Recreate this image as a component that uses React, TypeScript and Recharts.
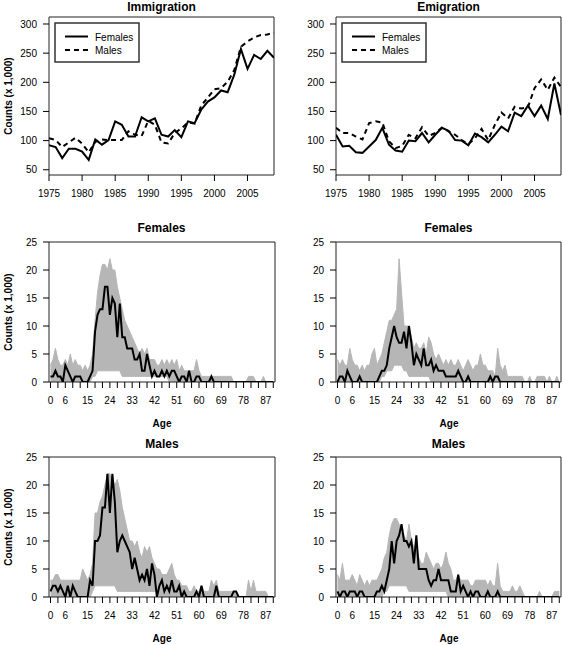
import React from "react";
import {
  LineChart,
  ComposedChart,
  Line,
  Area,
  XAxis,
  YAxis,
  ReferenceArea,
} from "recharts";

const FONT = "'Liberation Sans', Arial, Helvetica, sans-serif";
const GRAY = "#b6b6b6";

// yearly totals, 1975-2009 (x 1,000)
const YEARS = [
  1975, 1976, 1977, 1978, 1979, 1980, 1981, 1982, 1983, 1984, 1985, 1986,
  1987, 1988, 1989, 1990, 1991, 1992, 1993, 1994, 1995, 1996, 1997, 1998,
  1999, 2000, 2001, 2002, 2003, 2004, 2005, 2006, 2007, 2008, 2009,
];
const YEAR_TICKS = [1975, 1980, 1985, 1990, 1995, 2000, 2005];
const COUNT_TICKS = [50, 100, 150, 200, 250, 300];

const IMM_F = [
  92, 89, 70, 86, 86, 81, 67, 102, 93, 101, 133, 127, 107, 107, 140, 133, 138,
  110, 107, 118, 106, 133, 130, 153, 167, 174, 186, 183, 213, 257, 223, 247,
  240, 254, 242,
];
const IMM_M = [
  104, 101, 89, 97, 105, 95, 80, 98, 102, 101, 101, 101, 116, 110, 108, 134,
  127, 97, 95, 113, 121, 131, 129, 160, 174, 188, 190, 201, 221, 261, 270, 277,
  281, 282, 285,
];
const EMI_F = [
  110, 90, 91, 80, 79, 90, 101, 122, 93, 83, 81, 100, 99, 113, 97, 110, 122,
  117, 101, 100, 92, 112, 106, 97, 110, 124, 116, 148, 142, 160, 142, 160, 137,
  198, 144,
];
const EMI_M = [
  122, 113, 113, 107, 102, 130, 133, 131, 99, 87, 91, 110, 104, 123, 108, 113,
  122, 116, 110, 101, 94, 104, 120, 101, 127, 148, 138, 158, 155, 157, 190, 205,
  187, 208, 192,
];

// age profiles, ages 0-90 (x 1,000): grey band = range over all years, black = one year
const AGE_TICKS = [
  0, 3, 6, 9, 12, 15, 18, 21, 24, 27, 30, 33, 36, 39, 42, 45, 48, 51, 54, 57,
  60, 63, 66, 69, 72, 75, 78, 81, 84, 87, 90,
];
const AGE_LABELS = [0, 6, 15, 24, 33, 42, 51, 60, 69, 78, 87];
const AGE_COUNT_TICKS = [0, 5, 10, 15, 20, 25];

const F_IMM_HI = [
  3, 4, 6, 4, 3, 3, 4, 3, 5, 3,
  4, 3, 3, 2, 3, 2, 3, 5, 11, 16,
  19, 21, 21, 20, 22, 20, 20, 17, 15, 13,
  11, 10, 9, 8, 7, 6, 5, 6, 5, 6,
  4, 4, 4, 3, 3, 4, 3, 4, 3, 4,
  3, 4, 2, 3, 2, 2, 2, 2, 2, 4,
  2, 1, 1, 1, 1, 1, 1, 1, 1, 1,
  1, 1, 1, 1, 0, 0, 0, 0, 0, 0,
  1, 1, 1, 0, 0, 0, 1, 0, 0, 0, 0,
];
const F_IMM_LO = [
  0, 0, 0, 0, 0, 0, 0, 0, 0, 0,
  0, 0, 0, 0, 0, 0, 0, 1, 1, 2,
  2, 2, 2, 2, 2, 2, 2, 2, 2, 1,
  1, 1, 1, 1, 1, 1, 1, 1, 1, 1,
  1, 1, 1, 1, 1, 1, 1, 1, 0, 0,
  0, 0, 0, 0, 0, 0, 0, 0, 0, 0,
  0, 0, 0, 0, 0, 0, 0, 0, 0, 0,
  0, 0, 0, 0, 0, 0, 0, 0, 0, 0,
  0, 0, 0, 0, 0, 0, 0, 0, 0, 0, 0,
];
const F_IMM_BLACK = [
  1, 1, 2, 1, 1, 0, 3, 2, 1, 0,
  1, 1, 1, 0, 0, 0, 1, 2, 9, 12,
  13, 13, 17, 17, 12, 15, 14, 8, 14, 8,
  8, 6, 6, 6, 4, 4, 5, 2, 2, 5,
  3, 1, 2, 1, 1, 2, 1, 2, 1, 2,
  2, 1, 0, 1, 1, 0, 2, 0, 0, 1,
  1, 0, 0, 0, 0, 1, 0, 0, 0, 0,
  0, 0, 0, 0, 0, 0, 0, 0, 0, 0,
  0, 0, 0, 0, 0, 0, 0, 0, 0, 0, 0,
];

const F_EMI_HI = [
  4, 3, 4, 3, 3, 6, 4, 3, 3, 2,
  3, 2, 3, 3, 5, 6, 3, 4, 5, 7,
  9, 11, 11, 12, 13, 22, 16, 10, 10, 10,
  8, 6, 7, 6, 6, 7, 5, 8, 7, 5,
  4, 5, 4, 3, 4, 3, 4, 3, 3, 4,
  3, 2, 3, 4, 3, 2, 3, 3, 5, 3,
  3, 2, 2, 2, 1, 6, 3, 2, 3, 1,
  1, 1, 1, 1, 1, 1, 0, 0, 1, 0,
  0, 1, 1, 1, 1, 0, 1, 0, 0, 1, 0,
];
const F_EMI_LO = [
  0, 0, 0, 0, 0, 0, 0, 0, 0, 0,
  0, 0, 0, 0, 0, 0, 0, 0, 1, 1,
  2, 2, 2, 3, 3, 3, 3, 2, 2, 1,
  1, 1, 1, 1, 1, 1, 1, 1, 0, 0,
  0, 0, 0, 0, 0, 0, 0, 0, 0, 0,
  0, 0, 0, 0, 0, 0, 0, 0, 0, 0,
  0, 0, 0, 0, 0, 0, 0, 0, 0, 0,
  0, 0, 0, 0, 0, 0, 0, 0, 0, 0,
  0, 0, 0, 0, 0, 0, 0, 0, 0, 0, 0,
];
const F_EMI_BLACK = [
  0, 1, 1, 0, 2, 1, 0, 0, 0, 1,
  0, 0, 0, 0, 0, 0, 0, 1, 2, 2,
  3, 6, 8, 10, 8, 7, 7, 9, 6, 10,
  7, 3, 5, 4, 3, 6, 3, 3, 4, 2,
  3, 2, 2, 2, 1, 1, 1, 1, 1, 2,
  1, 0, 0, 1, 0, 0, 0, 0, 0, 0,
  0, 0, 1, 0, 1, 1, 0, 0, 0, 0,
  0, 0, 0, 0, 0, 0, 0, 0, 0, 0,
  0, 0, 0, 0, 0, 0, 0, 0, 0, 0, 0,
];

const M_IMM_HI = [
  3, 3, 4, 4, 3, 3, 3, 3, 3, 3,
  3, 3, 3, 5, 4, 3, 4, 6, 15, 15,
  17, 18, 20, 22, 22, 21, 20, 21, 19, 16,
  14, 12, 10, 10, 9, 10, 8, 7, 9, 8,
  9, 7, 6, 5, 5, 4, 4, 4, 5, 6,
  4, 3, 3, 2, 2, 2, 1, 1, 2, 1,
  1, 2, 1, 1, 1, 3, 2, 3, 1, 1,
  1, 1, 1, 1, 1, 1, 0, 0, 0, 0,
  3, 1, 3, 1, 1, 1, 1, 1, 0, 0, 0,
];
const M_IMM_LO = [
  0, 0, 0, 0, 0, 0, 0, 0, 0, 0,
  0, 0, 0, 0, 0, 0, 0, 1, 2, 2,
  2, 2, 2, 2, 2, 2, 2, 1, 1, 1,
  1, 1, 1, 1, 1, 1, 1, 1, 1, 1,
  1, 1, 1, 1, 0, 0, 0, 0, 0, 0,
  0, 0, 0, 0, 0, 0, 0, 0, 0, 0,
  0, 0, 0, 0, 0, 0, 0, 0, 0, 0,
  0, 0, 0, 0, 0, 0, 0, 0, 0, 0,
  0, 0, 0, 0, 0, 0, 0, 0, 0, 0, 0,
];
const M_IMM_BLACK = [
  1, 2, 2, 1, 2, 1, 0, 2, 0, 2,
  1, 0, 0, 0, 0, 0, 3, 2, 10, 10,
  11, 16, 16, 22, 15, 22, 17, 8, 10, 11,
  10, 9, 8, 5, 7, 5, 3, 4, 3, 5,
  2, 6, 4, 0, 2, 3, 1, 2, 1, 3,
  1, 1, 2, 0, 1, 0, 0, 0, 0, 1,
  0, 2, 0, 0, 0, 0, 0, 2, 0, 0,
  0, 0, 0, 0, 1, 1, 0, 0, 0, 0,
  0, 0, 0, 0, 0, 0, 0, 0, 0, 0, 0,
];

const M_EMI_HI = [
  4, 3, 6, 3, 3, 3, 4, 3, 2, 4,
  3, 2, 3, 2, 3, 3, 3, 4, 5, 7,
  8, 11, 13, 14, 14, 13, 12, 11, 10, 13,
  10, 9, 9, 7, 6, 6, 8, 7, 6, 5,
  6, 6, 5, 6, 8, 6, 5, 3, 3, 4,
  3, 3, 3, 3, 2, 2, 3, 3, 3, 3,
  3, 2, 3, 2, 2, 6, 2, 1, 1, 1,
  1, 2, 1, 1, 2, 1, 0, 0, 0, 0,
  0, 0, 1, 0, 0, 0, 0, 0, 1, 1, 1,
];
const M_EMI_LO = [
  0, 0, 0, 0, 0, 0, 0, 0, 0, 0,
  0, 0, 0, 0, 0, 0, 0, 0, 0, 1,
  1, 2, 2, 2, 2, 2, 2, 2, 2, 1,
  1, 1, 1, 1, 1, 1, 1, 1, 1, 1,
  1, 1, 1, 1, 1, 0, 0, 0, 0, 0,
  0, 0, 0, 0, 0, 0, 0, 0, 0, 0,
  0, 0, 0, 0, 0, 0, 0, 0, 0, 0,
  0, 0, 0, 0, 0, 0, 0, 0, 0, 0,
  0, 0, 0, 0, 0, 0, 0, 0, 0, 0, 0,
];
const M_EMI_BLACK = [
  1, 0, 1, 1, 0, 1, 1, 1, 0, 1,
  1, 0, 0, 0, 0, 0, 1, 1, 2, 1,
  3, 5, 10, 6, 10, 11, 13, 10, 10, 9,
  10, 6, 11, 5, 5, 5, 5, 3, 2, 3,
  3, 5, 3, 3, 3, 3, 1, 1, 1, 4,
  1, 2, 1, 0, 1, 0, 1, 1, 0, 0,
  0, 1, 0, 0, 0, 1, 0, 0, 0, 0,
  0, 0, 0, 0, 0, 0, 0, 0, 0, 0,
  0, 0, 0, 0, 0, 0, 0, 0, 0, 0, 0,
];

type Box = { x: number; y: number; w: number; h: number };

const tickStyle = { fontSize: 10, fill: "#000", fontFamily: FONT };
const PAD = 10; // room above the plot box for the top tick label

const YearPanel = ({ box, f, m }: { box: Box; f: number[]; m: number[] }) => {
  const rows = YEARS.map((year, i) => ({ year, f: f[i], m: m[i] }));
  return (
    <div style={{ position: "absolute", left: box.x - 50, top: box.y - PAD }}>
      <LineChart
        width={box.w + 52}
        height={box.h + 30 + PAD}
        data={rows}
        margin={{ top: PAD, right: 2, left: 0, bottom: 0 }}
      >
        <XAxis
          dataKey="year"
          type="number"
          domain={[1975, 2009]}
          ticks={YEAR_TICKS}
          interval={0}
          allowDataOverflow
          axisLine={false}
          tickLine={{ stroke: "#000" }}
          tickSize={6}
          tickMargin={9}
          height={30}
          tick={tickStyle}
        />
        <YAxis
          type="number"
          domain={[41, 312]}
          ticks={COUNT_TICKS}
          interval={0}
          allowDataOverflow
          axisLine={false}
          tickLine={{ stroke: "#000" }}
          tickSize={6}
          tickMargin={6}
          width={50}
          tick={tickStyle}
        />
        <ReferenceArea
          x1={1975}
          x2={2009}
          y1={41}
          y2={312}
          fill="none"
          stroke="#222"
          strokeWidth={1}
          ifOverflow="visible"
        />
        <Line
          dataKey="m"
          stroke="#000"
          strokeWidth={2}
          strokeDasharray="5 4"
          dot={false}
          isAnimationActive={false}
        />
        <Line
          dataKey="f"
          stroke="#000"
          strokeWidth={2}
          dot={false}
          isAnimationActive={false}
        />
      </LineChart>
    </div>
  );
};

const AgePanel = ({
  box,
  lo,
  hi,
  black,
}: {
  box: Box;
  lo: number[];
  hi: number[];
  black: number[];
}) => {
  const rows = black.map((v, age) => ({ age, band: [lo[age], hi[age]], black: v }));
  return (
    <div style={{ position: "absolute", left: box.x - 50, top: box.y - PAD }}>
      <ComposedChart
        width={box.w + 52}
        height={box.h + 30 + PAD}
        data={rows}
        margin={{ top: PAD, right: 2, left: 0, bottom: 0 }}
      >
        <XAxis
          dataKey="age"
          type="number"
          domain={[-0.6, 90.7]}
          ticks={AGE_TICKS}
          interval={0}
          allowDataOverflow
          axisLine={false}
          tickLine={{ stroke: "#000" }}
          tickSize={6}
          tickMargin={9}
          height={30}
          tick={tickStyle}
          tickFormatter={(v: number) => (AGE_LABELS.includes(v) ? String(v) : "")}
        />
        <YAxis
          type="number"
          domain={[0, 25]}
          ticks={AGE_COUNT_TICKS}
          interval={0}
          allowDataOverflow
          axisLine={false}
          tickLine={{ stroke: "#000" }}
          tickSize={6}
          tickMargin={6}
          width={50}
          tick={tickStyle}
        />
        <Area
          dataKey="band"
          type="linear"
          stroke={GRAY}
          strokeWidth={1}
          fill={GRAY}
          fillOpacity={1}
          isAnimationActive={false}
        />
        <Line
          dataKey="black"
          type="linear"
          stroke="#000"
          strokeWidth={2}
          dot={false}
          isAnimationActive={false}
        />
        <ReferenceArea
          x1={-0.6}
          x2={90.7}
          y1={0}
          y2={25}
          fill="none"
          stroke="#222"
          strokeWidth={1}
          ifOverflow="visible"
        />
      </ComposedChart>
    </div>
  );
};

const LegendBox = ({ x, y }: { x: number; y: number }) => (
  <g>
    <rect x={x} y={y} width={84} height={39} fill="none" stroke="#333" strokeWidth={1.5} />
    <line x1={x + 10} x2={x + 33} y1={y + 13.5} y2={y + 13.5} stroke="#000" strokeWidth={2} />
    <line
      x1={x + 10}
      x2={x + 33}
      y1={y + 27}
      y2={y + 27}
      stroke="#000"
      strokeWidth={2}
      strokeDasharray="5 4"
    />
    <text x={x + 40} y={y + 17.5} fontSize={10}>
      Females
    </text>
    <text x={x + 40} y={y + 30.5} fontSize={10}>
      Males
    </text>
  </g>
);

const LEFT: Box[] = [
  { x: 49, y: 17, w: 225, h: 158 },
  { x: 49, y: 242, w: 226, h: 140 },
  { x: 49, y: 457, w: 226, h: 140 },
];
const RIGHT: Box[] = [
  { x: 336, y: 17, w: 225, h: 158 },
  { x: 336, y: 242, w: 225, h: 140 },
  { x: 336, y: 457, w: 225, h: 140 },
];

export default function App() {
  return (
    <div
      style={{
        position: "absolute",
        left: 0,
        top: 0,
        width: 562,
        height: 645,
        overflow: "hidden",
        background: "#fff",
        fontFamily: FONT,
      }}
    >
      <YearPanel box={LEFT[0]} f={IMM_F} m={IMM_M} />
      <YearPanel box={RIGHT[0]} f={EMI_F} m={EMI_M} />
      <AgePanel box={LEFT[1]} lo={F_IMM_LO} hi={F_IMM_HI} black={F_IMM_BLACK} />
      <AgePanel box={RIGHT[1]} lo={F_EMI_LO} hi={F_EMI_HI} black={F_EMI_BLACK} />
      <AgePanel box={LEFT[2]} lo={M_IMM_LO} hi={M_IMM_HI} black={M_IMM_BLACK} />
      <AgePanel box={RIGHT[2]} lo={M_EMI_LO} hi={M_EMI_HI} black={M_EMI_BLACK} />

      <svg
        width={562}
        height={645}
        style={{ position: "absolute", left: 0, top: 0, pointerEvents: "none" }}
        fontFamily={FONT}
      >
        <g fontSize={12} fontWeight="bold" textAnchor="middle">
          <text x={161.5} y={10.5}>Immigration</text>
          <text x={448.5} y={10.5}>Emigration</text>
          <text x={161.5} y={231.5}>Females</text>
          <text x={448.5} y={231.5}>Females</text>
          <text x={162} y={448}>Males</text>
          <text x={448.5} y={448}>Males</text>
        </g>
        <g fontSize={10} fontWeight="bold" textAnchor="middle">
          <text x={162} y={427}>Age</text>
          <text x={449} y={427}>Age</text>
          <text x={162} y={642}>Age</text>
          <text x={449} y={642}>Age</text>
          <text transform="translate(11.5,96) rotate(-90)">Counts (x 1,000)</text>
          <text transform="translate(11.5,312) rotate(-90)">Counts (x 1,000)</text>
          <text transform="translate(11.5,527) rotate(-90)">Counts (x 1,000)</text>
        </g>
        <LegendBox x={55} y={23} />
        <LegendBox x={342} y={23} />
      </svg>
    </div>
  );
}
